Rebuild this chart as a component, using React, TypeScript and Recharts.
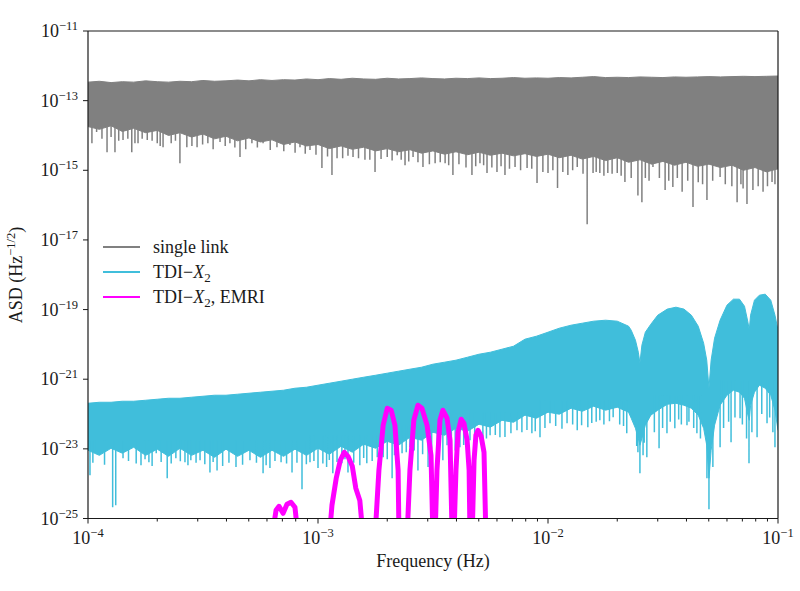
import React from 'react';
import { ComposedChart, Area, Line, XAxis, YAxis, ReferenceLine } from 'recharts';

const FONT = '"Liberation Serif", "Times New Roman", serif';
const INK = '#1a1a1a';
const GRAY = '#808080';
const CYAN = '#40bedb';
const MAGENTA = '#ff00ff';

// ---------- tick values ----------
const xMajorTicks = [1e-4, 1e-3, 1e-2, 1e-1];
const xMinorMultipliers = [2, 3, 4, 5, 6, 7, 8, 9];
const yTicks = [1e-25, 1e-23, 1e-21, 1e-19, 1e-17, 1e-15, 1e-13, 1e-11];

// ---------- single link: [frequency, lower edge, upper edge] ----------
const singleLinkBand: [number, number, number][] = [
  [1e-4, 1.8e-14, 3.4e-13], [1.12e-4, 1.5e-14, 3.6e-13], [1.26e-4, 1.9e-14, 3.3e-13], [1.41e-4, 1.3e-14, 3.5e-13],
  [1.58e-4, 1.6e-14, 3.4e-13], [1.78e-4, 1.2e-14, 3.7e-13], [2e-4, 1.4e-14, 3.5e-13], [2.24e-4, 1.0e-14, 3.4e-13],
  [2.51e-4, 1.2e-14, 3.6e-13], [2.82e-4, 9e-15, 3.5e-13], [3.16e-4, 1.1e-14, 3.8e-13], [3.55e-4, 8e-15, 3.6e-13],
  [3.98e-4, 9.5e-15, 3.7e-13], [4.47e-4, 7e-15, 3.9e-13], [5.01e-4, 8.5e-15, 3.7e-13], [5.62e-4, 6.5e-15, 4.0e-13],
  [6.31e-4, 7.5e-15, 3.8e-13], [7.08e-4, 5.5e-15, 4.0e-13], [7.94e-4, 6.5e-15, 3.9e-13], [8.91e-4, 5e-15, 4.2e-13],
  [1e-3, 5.5e-15, 4.0e-13], [1.12e-3, 4.2e-15, 4.3e-13], [1.26e-3, 5e-15, 4.1e-13], [1.41e-3, 4e-15, 4.4e-13],
  [1.58e-3, 4.6e-15, 4.2e-13], [1.78e-3, 3.6e-15, 4.1e-13], [2e-3, 4.2e-15, 4.4e-13], [2.24e-3, 3.4e-15, 4.2e-13],
  [2.51e-3, 3.9e-15, 4.3e-13], [2.82e-3, 3.1e-15, 4.5e-13], [3.16e-3, 3.6e-15, 4.3e-13], [3.55e-3, 2.9e-15, 4.2e-13],
  [3.98e-3, 3.4e-15, 4.4e-13], [4.47e-3, 2.8e-15, 4.3e-13], [5.01e-3, 3.3e-15, 4.5e-13], [5.62e-3, 2.7e-15, 4.3e-13],
  [6.31e-3, 3.1e-15, 4.4e-13], [7.08e-3, 2.6e-15, 4.6e-13], [7.94e-3, 3.0e-15, 4.4e-13], [8.91e-3, 2.5e-15, 4.5e-13],
  [1e-2, 2.9e-15, 4.4e-13], [1.12e-2, 2.3e-15, 4.6e-13], [1.26e-2, 2.7e-15, 4.5e-13], [1.41e-2, 2.1e-15, 4.7e-13],
  [1.58e-2, 2.5e-15, 4.9e-13], [1.78e-2, 1.9e-15, 4.6e-13], [2e-2, 2.3e-15, 4.7e-13], [2.24e-2, 1.7e-15, 4.6e-13],
  [2.51e-2, 2.0e-15, 4.8e-13], [2.82e-2, 1.5e-15, 4.7e-13], [3.16e-2, 1.8e-15, 4.6e-13], [3.55e-2, 1.4e-15, 4.8e-13],
  [3.98e-2, 1.7e-15, 4.7e-13], [4.47e-2, 1.3e-15, 4.8e-13], [5.01e-2, 1.5e-15, 4.9e-13], [5.62e-2, 1.2e-15, 4.8e-13],
  [6.31e-2, 1.4e-15, 4.9e-13], [7.08e-2, 1.0e-15, 5.0e-13], [7.94e-2, 1.2e-15, 4.9e-13], [8.91e-2, 9e-16, 5.0e-13],
  [1e-1, 1.1e-15, 5.1e-13],
];

// single link downward spikes: [frequency, spike bottom]
const SINGLE_LINK_SPIKE_TOP = 1e-13;
const singleLinkSpikes: [number, number][] = [
  [1.04e-4, 6.0e-15], [1.09e-4, 1.25e-14], [1.21e-4, 3.3e-15], [1.31e-4, 3.3e-15], [1.42e-4, 7.4e-15],
  [1.55e-4, 3.3e-15], [1.65e-4, 6.0e-15], [1.81e-4, 7.4e-15], [2.0e-4, 6.0e-15], [2.12e-4, 4.6e-15],
  [2.51e-4, 1.6e-15], [2.69e-4, 4.6e-15], [2.98e-4, 4.6e-15], [3.32e-4, 6.0e-15], [3.75e-4, 6.5e-15],
  [4.14e-4, 6.0e-15], [4.58e-4, 2.4e-15], [5.16e-4, 6.0e-15], [5.77e-4, 6.0e-15], [6.63e-4, 4.6e-15],
  [7.55e-4, 5.3e-15], [8.35e-4, 4.6e-15], [9.23e-4, 3.8e-15], [1.04e-3, 1.16e-15], [1.15e-3, 7.3e-16],
  [1.28e-3, 2.2e-15], [1.42e-3, 2.4e-15], [1.6e-3, 2.0e-15], [1.77e-3, 8.9e-16], [2.0e-3, 2.4e-15],
  [2.21e-3, 2.7e-15], [2.39e-3, 1.4e-15], [2.59e-3, 2.4e-15], [2.86e-3, 1.24e-15], [3.23e-3, 1.6e-15],
  [3.57e-3, 1.6e-15], [3.86e-3, 7.3e-16], [4.67e-3, 7.3e-16], [5.06e-3, 1.6e-15], [5.43e-3, 8.3e-16],
  [6.0e-3, 8.9e-16], [6.5e-3, 7.3e-16], [7.19e-3, 1.24e-15], [8.11e-3, 1.16e-15], [8.96e-3, 4.3e-16],
  [1.0e-2, 8.3e-16], [1.1e-2, 3.1e-16], [1.22e-2, 7.3e-16], [1.34e-2, 1.24e-15], [1.48e-2, 2.8e-17],
  [1.57e-2, 8.3e-16], [1.68e-2, 8.3e-16], [1.82e-2, 8.3e-16], [2.0e-2, 8.3e-16], [2.16e-2, 4.6e-16],
  [2.46e-2, 1.9e-16], [2.56e-2, 1.2e-16], [2.86e-2, 1.24e-15], [3.23e-2, 2.7e-16], [3.49e-2, 3.3e-16],
  [3.83e-2, 2.4e-16], [4.27e-2, 8.8e-17], [4.91e-2, 1.4e-16], [5.6e-2, 6.4e-16], [6.64e-2, 1.2e-16],
  [7.33e-2, 1.07e-16], [7.78e-2, 2.7e-16], [8.61e-2, 2.4e-16], [9.42e-2, 4.6e-16],
  // shorter teeth along the lower edge
  [1.15e-4, 8e-15], [1.26e-4, 9e-15], [1.36e-4, 7e-15], [1.49e-4, 8e-15], [1.6e-4, 6e-15], [1.72e-4, 8e-15],
  [1.9e-4, 7e-15], [2.06e-4, 5e-15], [2.3e-4, 6e-15], [2.4e-4, 7e-15], [2.83e-4, 5e-15], [3.15e-4, 5.5e-15],
  [3.5e-4, 4e-15], [3.95e-4, 5e-15], [4.35e-4, 4.5e-15], [4.85e-4, 4e-15], [5.45e-4, 4.5e-15], [6.2e-4, 3.8e-15],
  [7.1e-4, 3.5e-15], [7.95e-4, 3.2e-15], [8.8e-4, 3e-15], [9.8e-4, 2.8e-15], [1.1e-3, 2.5e-15], [1.21e-3, 2.2e-15],
  [1.35e-3, 2.6e-15], [1.5e-3, 2.2e-15], [1.68e-3, 2e-15], [1.88e-3, 2.1e-15], [2.1e-3, 1.9e-15], [2.3e-3, 2e-15],
  [2.48e-3, 1.8e-15], [2.72e-3, 1.7e-15], [3.05e-3, 1.5e-15], [3.4e-3, 1.7e-15], [3.7e-3, 1.4e-15], [4.1e-3, 1.5e-15],
  [4.4e-3, 1.2e-15], [4.85e-3, 1.3e-15], [5.25e-3, 1.4e-15], [5.7e-3, 1.2e-15], [6.25e-3, 1.3e-15], [6.8e-3, 1.1e-15],
  [7.6e-3, 1e-15], [8.5e-3, 1.1e-15], [9.5e-3, 9e-16], [1.05e-2, 1e-15], [1.16e-2, 9e-16], [1.28e-2, 1e-15],
  [1.42e-2, 8e-16], [1.62e-2, 9e-16], [1.75e-2, 7e-16], [1.9e-2, 8e-16], [2.08e-2, 7e-16], [2.3e-2, 6e-16],
  [2.65e-2, 6e-16], [2.75e-2, 5e-16], [3.05e-2, 6e-16], [3.35e-2, 5e-16], [3.65e-2, 6e-16], [4.05e-2, 5e-16],
  [4.5e-2, 4.5e-16], [4.7e-2, 4e-16], [5.2e-2, 5e-16], [5.9e-2, 4e-16], [6.3e-2, 3.5e-16], [6.9e-2, 4e-16],
  [7.05e-2, 3e-16], [8.2e-2, 3.5e-16], [9e-2, 3.5e-16], [9.7e-2, 4e-16],
];

// ---------- TDI-X2: [frequency, lower edge, upper edge] ----------
const tdiBand: [number, number, number][] = [
  [1e-4, 9.1e-24, 2.04e-22], [1.12e-4, 6.5e-24, 2.18e-22], [1.26e-4, 1.04e-23, 2.18e-22], [1.41e-4, 7.5e-24, 2.33e-22],
  [1.58e-4, 1.11e-23, 2.33e-22], [1.78e-4, 6.5e-24, 2.49e-22], [2e-4, 9.8e-24, 2.66e-22], [2.24e-4, 6.1e-24, 2.84e-22],
  [2.51e-4, 1.04e-23, 2.84e-22], [2.82e-4, 6.5e-24, 3.04e-22], [3.16e-4, 9.1e-24, 3.24e-22], [3.55e-4, 5.7e-24, 3.47e-22],
  [3.98e-4, 9.8e-24, 3.47e-22], [4.47e-4, 6.1e-24, 3.71e-22], [5.01e-4, 9.1e-24, 3.96e-22], [5.62e-4, 5.7e-24, 4.23e-22],
  [6.31e-4, 9.1e-24, 4.52e-22], [7.08e-4, 6.1e-24, 4.83e-22], [7.94e-4, 9.8e-24, 5.51e-22], [8.91e-4, 6.5e-24, 5.89e-22],
  [1e-3, 1.04e-23, 6.73e-22], [1.12e-3, 7.0e-24, 7.67e-22], [1.26e-3, 1.19e-23, 8.77e-22], [1.41e-3, 8.0e-24, 1.0e-21],
  [1.58e-3, 1.36e-23, 1.14e-21], [1.78e-3, 1.04e-23, 1.3e-21], [2e-3, 1.65e-23, 1.49e-21], [2.24e-3, 1.27e-23, 1.7e-21],
  [2.51e-3, 2.15e-23, 1.94e-21], [2.82e-3, 1.77e-23, 2.21e-21], [3.16e-3, 3.0e-23, 2.7e-21], [3.55e-3, 2.46e-23, 3.08e-21],
  [3.98e-3, 3.9e-23, 3.52e-21], [4.47e-3, 3.2e-23, 4.29e-21], [5.01e-3, 5.1e-23, 5.22e-21], [5.62e-3, 4.2e-23, 5.97e-21],
  [6.31e-3, 6.6e-23, 7.28e-21], [7.08e-3, 5.8e-23, 8.87e-21], [7.94e-3, 9.3e-23, 1.41e-20], [8.91e-3, 7.6e-23, 1.72e-20],
  [1e-2, 1.13e-22, 2.24e-20], [1.12e-2, 9.9e-23, 2.92e-20], [1.26e-2, 1.47e-22, 3.56e-20], [1.41e-2, 1.2e-22, 4.06e-20],
  [1.58e-2, 1.67e-22, 4.64e-20], [1.78e-2, 1.29e-22, 4.95e-20], [2e-2, 1.57e-22, 4.64e-20], [2.24e-2, 1.13e-22, 3.33e-20],
  [2.3e-2, 7.6e-23, 2.56e-20], [2.4e-2, 3.9e-23, 1.32e-20], [2.47e-2, 2.0e-23, 5.97e-21], [2.51e-2, 1.27e-23, 2.88e-21],
  [2.56e-2, 2.0e-23, 9.5e-21], [2.65e-2, 4.8e-23, 2.24e-20], [2.8e-2, 9.3e-23, 3.8e-20], [3e-2, 1.29e-22, 6.9e-20],
  [3.3e-2, 1.91e-22, 1.03e-19], [3.6e-2, 2.04e-22, 1.17e-19], [3.9e-2, 1.79e-22, 1.03e-19], [4.2e-2, 1.47e-22, 6.9e-20],
  [4.5e-2, 9.3e-23, 3.33e-20], [4.75e-2, 3.9e-23, 1.08e-20], [4.9e-2, 1.27e-23, 3.52e-21], [5.01e-2, 1.43e-24, 5.51e-22],
  [5.12e-2, 9.1e-24, 3.52e-21], [5.3e-2, 4.8e-23, 1.51e-20], [5.6e-2, 1.79e-22, 4.95e-20], [6e-2, 3.47e-22, 1.34e-19],
  [6.4e-2, 4.83e-22, 1.99e-19], [6.8e-2, 4.23e-22, 1.99e-19], [7.15e-2, 2.84e-22, 1.25e-19], [7.4e-2, 9.3e-23, 4.35e-20],
  [7.5e-2, 6.6e-23, 2.56e-20], [7.6e-2, 1.79e-22, 6.9e-20], [7.9e-2, 4.23e-22, 1.86e-19], [8.3e-2, 6.73e-22, 2.59e-19],
  [8.8e-2, 5.51e-22, 2.77e-19], [9.3e-2, 3.47e-22, 1.86e-19], [9.7e-2, 1.29e-22, 6.9e-20], [1e-1, 3.4e-23, 2.56e-20],
];

// TDI-X2 downward spikes: [frequency, spike bottom, spike top (inside the band)]
const tdiSpikes: [number, number, number][] = [
  [1.02e-4, 1.74e-24, 1.77e-23], [1.09e-4, 7.5e-24, 1.77e-23], [1.28e-4, 2.1e-25, 1.77e-23], [1.32e-4, 2.4e-25, 1.77e-23],
  [1.42e-4, 5.4e-24, 1.77e-23], [1.7e-4, 3.4e-24, 1.77e-23], [1.84e-4, 4.1e-24, 1.77e-23], [1.98e-4, 7.5e-24, 1.77e-23],
  [2.21e-4, 1.43e-24, 1.77e-23], [2.41e-4, 5.4e-24, 1.77e-23], [2.64e-4, 4.1e-24, 1.77e-23], [2.8e-4, 4.7e-24, 1.77e-23],
  [3.07e-4, 4.7e-24, 1.77e-23], [3.39e-4, 2.1e-24, 1.77e-23], [3.64e-4, 2.4e-24, 1.77e-23], [4.4e-4, 3.0e-24, 1.77e-23],
  [5.06e-4, 4.7e-24, 1.77e-23], [5.77e-4, 2.0e-24, 1.77e-23], [6.18e-4, 2.8e-24, 1.77e-23], [6.91e-4, 4.1e-24, 1.77e-23],
  [7.71e-4, 2.1e-24, 1.77e-23], [8.52e-4, 6.9e-25, 1.77e-23],
  [9.23e-4, 4.1e-24, 2.46e-23], [1.0e-3, 2.8e-24, 2.46e-23], [1.09e-3, 3.0e-24, 2.46e-23], [1.16e-3, 2.0e-24, 2.46e-23],
  [1.27e-3, 3.85e-24, 2.46e-23], [1.35e-3, 2.1e-24, 2.46e-23], [1.52e-3, 3.4e-24, 2.46e-23], [1.63e-3, 3.85e-24, 2.46e-23],
  [1.81e-3, 5.7e-24, 2.46e-23], [1.92e-3, 5.7e-24, 2.46e-23], [2.1e-3, 1.43e-24, 2.46e-23], [2.21e-3, 5.7e-24, 2.46e-23],
  [2.32e-3, 7.5e-24, 4.8e-23], [2.51e-3, 1.11e-23, 4.8e-23], [2.72e-3, 2.4e-24, 4.8e-23], [3.01e-3, 3.0e-24, 4.8e-23],
  [3.49e-3, 4.7e-24, 4.8e-23], [3.64e-3, 1.27e-23, 4.8e-23], [4.14e-3, 1.11e-23, 4.8e-23],
  [4.58e-3, 1.77e-23, 1.13e-22], [5.21e-3, 1.45e-23, 1.13e-22], [5.6e-3, 2.46e-23, 1.13e-22], [6.18e-3, 2.15e-23, 1.13e-22],
  [7.33e-3, 3.4e-23, 1.13e-22], [8.51e-3, 2.8e-23, 1.13e-22],
  [9.23e-3, 2.15e-23, 2.49e-22], [1.02e-2, 5.4e-23, 2.49e-22], [1.21e-2, 5.4e-23, 2.49e-22], [1.34e-2, 3.4e-23, 2.49e-22],
  [1.49e-2, 4.2e-23, 2.49e-22], [1.68e-2, 6.6e-23, 2.49e-22], [1.92e-2, 8.1e-23, 2.49e-22], [2.2e-2, 2.8e-23, 2.49e-22],
  [2.46e-2, 8.0e-24, 6.6e-23], [2.51e-2, 2.0e-24, 6.6e-23], [2.59e-2, 6.5e-24, 6.6e-23], [2.69e-2, 5.7e-24, 6.6e-23],
  [3.04e-2, 1.04e-23, 3.47e-22], [3.29e-2, 2.8e-23, 3.47e-22], [3.56e-2, 3.9e-23, 3.47e-22], [4.02e-2, 4.8e-23, 3.47e-22],
  [4.44e-2, 2.8e-23, 3.47e-22],
  [4.91e-2, 1.43e-24, 3.4e-23], [5.01e-2, 1.84e-25, 3.4e-23], [5.21e-2, 3.0e-24, 3.4e-23],
  [5.6e-2, 1.11e-23, 9.35e-22], [6.25e-2, 1.55e-23, 9.35e-22], [6.84e-2, 7.6e-23, 9.35e-22], [7.48e-2, 3.85e-24, 9.35e-22],
  [8.11e-2, 2.15e-23, 9.35e-22], [8.96e-2, 5.4e-23, 9.35e-22], [9.7e-2, 1.11e-23, 9.35e-22],
  // shorter teeth along the lower edge
  [1.05e-4, 4e-24, 1.77e-23], [1.18e-4, 3.5e-24, 1.77e-23], [1.5e-4, 4.5e-24, 1.77e-23], [1.62e-4, 3.8e-24, 1.77e-23],
  [1.77e-4, 5e-24, 1.77e-23], [1.9e-4, 3.2e-24, 1.77e-23], [2.08e-4, 4.2e-24, 1.77e-23], [2.3e-4, 3.8e-24, 1.77e-23],
  [2.52e-4, 4.4e-24, 1.77e-23], [2.72e-4, 3.4e-24, 1.77e-23], [2.95e-4, 4e-24, 1.77e-23], [3.22e-4, 3.6e-24, 1.77e-23],
  [3.5e-4, 4.2e-24, 1.77e-23], [3.85e-4, 3.2e-24, 1.77e-23], [4.1e-4, 4e-24, 1.77e-23], [4.7e-4, 3.5e-24, 1.77e-23],
  [5.4e-4, 4e-24, 1.77e-23], [5.95e-4, 3.4e-24, 1.77e-23], [6.5e-4, 4.5e-24, 1.77e-23], [7.3e-4, 3.8e-24, 1.77e-23],
  [8.1e-4, 4e-24, 1.77e-23], [8.9e-4, 3.6e-24, 1.77e-23],
  [9.6e-4, 4.5e-24, 2.46e-23], [1.05e-3, 3.8e-24, 2.46e-23], [1.12e-3, 4.8e-24, 2.46e-23], [1.21e-3, 4.2e-24, 2.46e-23],
  [1.31e-3, 5e-24, 2.46e-23], [1.43e-3, 4e-24, 2.46e-23], [1.58e-3, 5.5e-24, 2.46e-23], [1.72e-3, 4.5e-24, 2.46e-23],
  [1.86e-3, 6e-24, 2.46e-23], [2.0e-3, 5e-24, 2.46e-23], [2.15e-3, 6.5e-24, 2.46e-23],
  [2.42e-3, 8e-24, 4.8e-23], [2.62e-3, 9e-24, 4.8e-23], [2.85e-3, 7e-24, 4.8e-23], [3.12e-3, 1e-23, 4.8e-23],
  [3.3e-3, 8e-24, 4.8e-23], [3.8e-3, 1.2e-23, 4.8e-23], [3.95e-3, 9e-24, 4.8e-23], [4.3e-3, 1.3e-23, 4.8e-23],
  [4.8e-3, 1.8e-23, 1.13e-22], [5.4e-3, 2e-23, 1.13e-22], [5.9e-3, 2.5e-23, 1.13e-22], [6.5e-3, 2.2e-23, 1.13e-22],
  [6.9e-3, 2.8e-23, 1.13e-22], [7.7e-3, 3e-23, 1.13e-22], [8.1e-3, 3.5e-23, 1.13e-22], [8.8e-3, 3.2e-23, 1.13e-22],
  [9.7e-3, 4e-23, 2.49e-22], [1.08e-2, 4.5e-23, 2.49e-22], [1.15e-2, 3.8e-23, 2.49e-22], [1.28e-2, 5e-23, 2.49e-22],
  [1.4e-2, 4.8e-23, 2.49e-22], [1.55e-2, 5.5e-23, 2.49e-22], [1.62e-2, 6e-23, 2.49e-22], [1.75e-2, 5e-23, 2.49e-22],
  [1.85e-2, 6.2e-23, 2.49e-22], [2.05e-2, 5e-23, 2.49e-22], [2.13e-2, 4.5e-23, 2.49e-22],
  [2.43e-2, 1.2e-23, 6.6e-23], [2.62e-2, 1.5e-23, 6.6e-23],
  [2.9e-2, 3e-23, 3.47e-22], [3.15e-2, 4e-23, 3.47e-22], [3.4e-2, 6e-23, 3.47e-22], [3.7e-2, 7e-23, 3.47e-22],
  [3.8e-2, 5e-23, 3.47e-22], [4.1e-2, 6e-23, 3.47e-22], [4.3e-2, 4e-23, 3.47e-22], [4.6e-2, 2e-23, 3.47e-22],
  [5.8e-2, 4e-23, 9.35e-22], [6.1e-2, 6e-23, 9.35e-22], [6.5e-2, 8e-23, 9.35e-22], [7e-2, 5e-23, 9.35e-22],
  [7.3e-2, 2e-23, 9.35e-22], [7.7e-2, 3e-23, 9.35e-22], [8.5e-2, 1e-22, 9.35e-22], [9.2e-2, 8e-23, 9.35e-22],
  [9.5e-2, 3e-23, 9.35e-22],
];

// ---------- TDI-X2 with EMRI: [frequency, ASD] (lobes reach below the axis floor) ----------
const emriTrace: [number, number][] = [
  [6.31e-4, 3e-26], [6.57e-4, 1.72e-25], [6.77e-4, 2.24e-25], [7.05e-4, 1.41e-25], [7.33e-4, 2.56e-25],
  [7.63e-4, 2.92e-25], [7.94e-4, 2.1e-25], [8.19e-4, 3e-26],
  [1.12e-3, 3e-26], [1.15e-3, 2.4e-25], [1.2e-3, 1.43e-24], [1.25e-3, 4.7e-24], [1.3e-3, 8.0e-24],
  [1.35e-3, 6.1e-24], [1.41e-3, 3.16e-24], [1.46e-3, 7.4e-25], [1.52e-3, 3.3e-25], [1.57e-3, 3e-26],
  [1.77e-3, 3e-26], [1.84e-3, 2.43e-24], [1.92e-3, 4.76e-23], [2.0e-3, 1.47e-22], [2.08e-3, 1.29e-22],
  [2.16e-3, 4.76e-23], [2.23e-3, 2.43e-24], [2.25e-3, 3e-26],
  [2.44e-3, 3e-26], [2.51e-3, 2.43e-24], [2.61e-3, 6.64e-23], [2.72e-3, 1.79e-22], [2.83e-3, 1.47e-22],
  [2.98e-3, 4.76e-23], [3.1e-3, 6.55e-24], [3.16e-3, 3e-26],
  [3.23e-3, 3e-26], [3.29e-3, 2.43e-24], [3.39e-3, 6.64e-23], [3.49e-3, 1.29e-22], [3.64e-3, 7.57e-23],
  [3.75e-3, 1.77e-23], [3.83e-3, 3e-26],
  [3.9e-3, 3e-26], [3.98e-3, 2.43e-24], [4.06e-3, 3.0e-23], [4.19e-3, 7.1e-23], [4.31e-3, 5.44e-23],
  [4.45e-3, 1.77e-23], [4.54e-3, 2.43e-24], [4.58e-3, 3e-26],
  [4.68e-3, 3e-26], [4.77e-3, 4.7e-24], [4.86e-3, 2.46e-23], [4.96e-3, 3.42e-23], [5.12e-3, 2.3e-23],
  [5.27e-3, 8.0e-24], [5.37e-3, 3e-26],
];

// ---------- table builders ----------
const bandRows = (band: [number, number, number][]) => band.map(([f, lo, hi]) => ({ f, lo, hi }));
const spikeRows = (spikes: number[][], defaultTop?: number) =>
  [...spikes]
    .sort((a, b) => a[0] - b[0])
    .flatMap((s) => [
      { f: s[0], v: s.length > 2 ? s[2] : (defaultTop as number) },
      { f: s[0], v: s[1] },
      { f: s[0], v: null as number | null },
    ]);

const singleLinkRows = bandRows(singleLinkBand);
const singleLinkSpikeRows = spikeRows(singleLinkSpikes, SINGLE_LINK_SPIKE_TOP);
const tdiRows = bandRows(tdiBand);
const tdiSpikeRows = spikeRows(tdiSpikes);
const emriRows = emriTrace.map(([f, v]) => ({ f, v }));

const xTicks = [
  ...xMajorTicks,
  ...xMajorTicks.slice(0, -1).flatMap((d) => xMinorMultipliers.map((m) => m * d)),
].sort((a, b) => a - b);

const exponentOf = (v: number) => Math.round(Math.log10(v));
const isDecade = (v: number) => Math.abs(Math.log10(v) - exponentOf(v)) < 1e-6;

const XTick = (props: any) => {
  const { x, y, payload } = props;
  const v = payload.value as number;
  const major = isDecade(v);
  return (
    <g>
      <line x1={x} x2={x} y1={y} y2={y + (major ? 5 : 3)} stroke={INK} strokeWidth={1} />
      {major && (
        <text x={x} y={y + 25} textAnchor="middle" fontFamily={FONT} fontSize={18} fill={INK}>
          10<tspan dy={-7} fontSize={12.5}>{'\u2212' + Math.abs(exponentOf(v))}</tspan>
        </text>
      )}
    </g>
  );
};

const YTick = (props: any) => {
  const { x, y, payload } = props;
  const v = payload.value as number;
  return (
    <g>
      <line x1={x - 5} x2={x} y1={y} y2={y} stroke={INK} strokeWidth={1} />
      <text x={x - 10} y={y + 6} textAnchor="end" fontFamily={FONT} fontSize={18} fill={INK}>
        10<tspan dy={-7} fontSize={12.5}>{'\u2212' + Math.abs(exponentOf(v))}</tspan>
      </text>
    </g>
  );
};

const legendItems = [
  { key: 'single', color: GRAY },
  { key: 'tdi', color: CYAN },
  { key: 'emri', color: MAGENTA },
];

const LegendLabel = ({ k }: { k: string }) => {
  if (k === 'single') return <>single link</>;
  return (
    <>
      {'TDI\u2212'}
      <tspan fontStyle="italic">X</tspan>
      <tspan dy={4} fontSize={13}>2</tspan>
      {k === 'emri' && <tspan dy={-4}>, EMRI</tspan>}
    </>
  );
};

export default function App() {
  return (
    <div style={{ position: 'absolute', left: 0, top: 0, width: 800, height: 591, background: '#fff' }}>
      <ComposedChart width={800} height={591} margin={{ top: 31, right: 22, bottom: 0, left: 0 }}>
        <XAxis
          dataKey="f"
          type="number"
          scale="log"
          domain={[1e-4, 1e-1]}
          allowDataOverflow
          ticks={xTicks}
          interval={0}
          tick={<XTick />}
          tickLine={false}
          tickSize={0}
          tickMargin={0}
          height={72.5}
          axisLine={{ stroke: INK, strokeWidth: 1.2 }}
        />
        <YAxis
          type="number"
          scale="log"
          domain={[1e-25, 1e-11]}
          allowDataOverflow
          ticks={yTicks}
          interval={0}
          tick={<YTick />}
          tickLine={false}
          tickSize={0}
          tickMargin={0}
          width={88}
          axisLine={{ stroke: INK, strokeWidth: 1.2 }}
        />
        <Area
          data={singleLinkRows}
          dataKey={(d: any) => [d.lo, d.hi]}
          type="linear"
          stroke={GRAY}
          strokeWidth={1}
          fill={GRAY}
          fillOpacity={1}
          dot={false}
          activeDot={false}
          isAnimationActive={false}
        />
        <Line
          data={singleLinkSpikeRows}
          dataKey="v"
          type="linear"
          stroke={GRAY}
          strokeWidth={1.5}
          dot={false}
          activeDot={false}
          connectNulls={false}
          isAnimationActive={false}
        />
        <Area
          data={tdiRows}
          dataKey={(d: any) => [d.lo, d.hi]}
          type="linear"
          stroke={CYAN}
          strokeWidth={1}
          fill={CYAN}
          fillOpacity={1}
          dot={false}
          activeDot={false}
          isAnimationActive={false}
        />
        <Line
          data={tdiSpikeRows}
          dataKey="v"
          type="linear"
          stroke={CYAN}
          strokeWidth={1.5}
          dot={false}
          activeDot={false}
          connectNulls={false}
          isAnimationActive={false}
        />
        <Line
          data={emriRows}
          dataKey="v"
          type="linear"
          stroke={MAGENTA}
          strokeWidth={5}
          strokeLinejoin="round"
          dot={false}
          activeDot={false}
          isAnimationActive={false}
        />
        <ReferenceLine y={1e-11} stroke={INK} strokeWidth={1.2} ifOverflow="visible" />
        <ReferenceLine x={1e-1} stroke={INK} strokeWidth={1.2} ifOverflow="visible" />
      </ComposedChart>
      <svg
        width={800}
        height={591}
        style={{ position: 'absolute', left: 0, top: 0, pointerEvents: 'none' }}
      >
        {legendItems.map((it, i) => {
          const cy = 247 + i * 25;
          return (
            <g key={it.key}>
              <line x1={103} x2={140} y1={cy} y2={cy} stroke={it.color} strokeWidth={2} />
              <text x={153} y={cy + 6} fontFamily={FONT} fontSize={18} fill={INK}>
                <LegendLabel k={it.key} />
              </text>
            </g>
          );
        })}
        <text x={433} y={567} textAnchor="middle" fontFamily={FONT} fontSize={18} fill={INK}>
          Frequency (Hz)
        </text>
        <text
          x={22}
          y={275}
          transform="rotate(-90, 22, 275)"
          textAnchor="middle"
          fontFamily={FONT}
          fontSize={18}
          fill={INK}
        >
          ASD (Hz<tspan dy={-7} fontSize={12.5}>{'\u22121/2'}</tspan>
          <tspan dy={7}>)</tspan>
        </text>
      </svg>
    </div>
  );
}
